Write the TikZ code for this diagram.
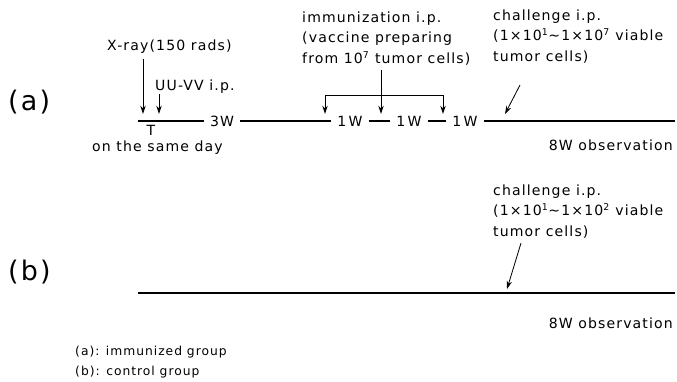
\documentclass[tikz,border=0pt]{standalone}
\usepackage{fontspec}
\setmainfont{DejaVu Sans}[LetterSpace=8]
\usetikzlibrary{arrows.meta}

\begin{document}
\begin{tikzpicture}[x=0.03cm, y=-0.03cm,
    timeline/.style={line width=2.4pt},
    pointer/.style={line width=0.7pt, -{Stealth[length=7pt, width=4.5pt]}},
    lbl/.style={font=\fontsize{12}{17.4}\selectfont, inner sep=0pt},
    tick/.style={lbl, inner xsep=5pt},
    note/.style={lbl, align=left, anchor=north west},
    grp/.style={font=\fontsize{23}{27}\selectfont, inner sep=0pt, anchor=base west},
    legend/.style={font=\fontsize{10.5}{14}\selectfont, inner sep=0pt, anchor=base west}]

    \useasboundingbox (0,0) rectangle (677,381);

    % group labels
    \node[grp] (ga) at (8,110) {(a)};
    \node[grp] (gb) at (8,280) {(b)};

    % timeline (a)
    \coordinate (starta) at (138,121);
    \coordinate (enda) at (675,121);
    \node[tick] (w3) at (222,121) {3W};
    \foreach \name/\x in {wa/350, wb/409, wc/465}
        \node[tick] (\name) at (\x,121) {1\,W};
    \draw[timeline] (starta) -- (w3) -- (wa) -- (wb) -- (wc) -- (enda);

    \node[lbl, anchor=base] (tmark) at (151,135) {T};
    \node[lbl, anchor=base west] (sameday) at (92,151) {on the same day};
    \node[lbl, anchor=base east] (obsa) at (673,150) {8W observation};

    % X-ray and UU-VV
    \node[lbl, anchor=base west] (xray) at (107,50) {X-ray(150 rads)};
    \node[lbl, anchor=base west] (uuvv) at (155,90) {UU-VV i.p.};
    \coordinate (xraytop) at (143,59);
    \coordinate (xrayhit) at (143,114);
    \coordinate (uuvvtop) at (159,94);
    \coordinate (uuvvhit) at (159,114);
    \draw[pointer] (xraytop) -- (xrayhit);
    \draw[pointer] (uuvvtop) -- (uuvvhit);

    % immunization
    \node[note] (immun) at (302,11.5) {immunization i.p.\\(vaccine preparing\\from 10\textsuperscript{7} tumor cells)};
    \coordinate (immtop) at (381,70);
    \coordinate (fork) at (381,95);
    \foreach \x [count=\i] in {325,381,443}
        \coordinate (imm\i) at (\x,114);
    \draw[pointer] (immtop) -- (imm2);
    \draw[pointer] (fork) -| (imm1);
    \draw[pointer] (fork) -| (imm3);

    % challenge (a)
    \node[note] (chala) at (493,9.5) {challenge i.p.\\(1×10\textsuperscript{1}∼1×10\textsuperscript{7} viable\\tumor cells)};
    \coordinate (chalatail) at (520,85);
    \coordinate (chalahit) at (505,114);
    \draw[pointer] (chalatail) -- (chalahit);

    % timeline (b)
    \coordinate (startb) at (138,293);
    \coordinate (endb) at (675,293);
    \draw[timeline] (startb) -- (endb);
    \node[note] (chalb) at (493,184.5) {challenge i.p.\\(1×10\textsuperscript{1}∼1×10\textsuperscript{2} viable\\tumor cells)};
    \coordinate (chalbtail) at (521,243);
    \coordinate (chalbhit) at (507,289);
    \draw[pointer] (chalbtail) -- (chalbhit);
    \node[lbl, anchor=base east] (obsb) at (673,328) {8W observation};

    % legend
    \node[legend] (lega) at (75,355) {(a): immunized group};
    \node[legend] (legb) at (75,375) {(b): control group};
\end{tikzpicture}
\end{document}
